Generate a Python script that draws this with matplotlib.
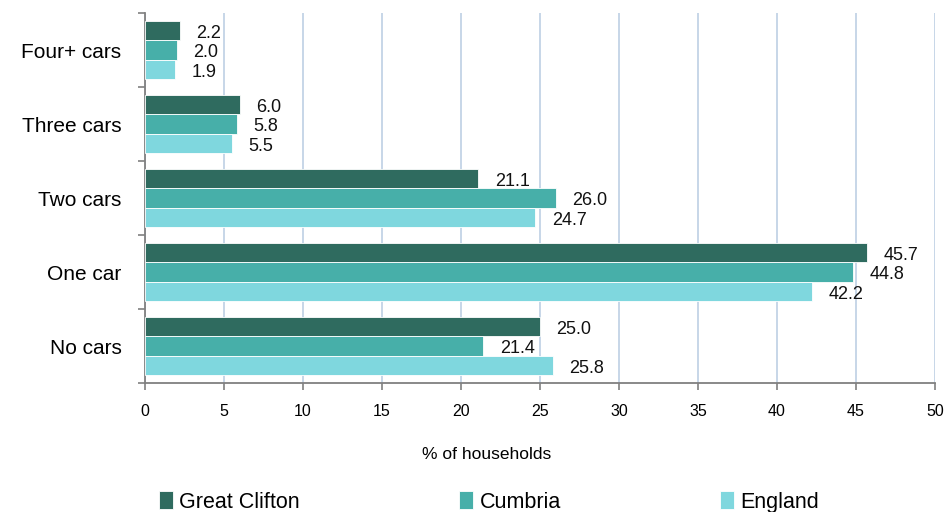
import numpy as np
import matplotlib
matplotlib.use('Agg')
import matplotlib.pyplot as plt

plt.rcParams['font.family'] = ['Liberation Sans', 'DejaVu Sans']

categories = ['No cars', 'One car', 'Two cars', 'Three cars', 'Four+ cars']
great_clifton = [25.0, 45.7, 21.1, 6.0, 2.2]
cumbria = [21.4, 44.8, 26.0, 5.8, 2.0]
england = [25.8, 42.2, 24.7, 5.5, 1.9]
series_names = ['Great Clifton', 'Cumbria', 'England']
colors = ['#2F6B5F', '#47AFA9', '#7FD7DE']

fig = plt.figure(figsize=(9.46, 5.12), dpi=100)
ax = fig.add_axes([145 / 946, 1 - 383 / 512, 790 / 946, 370 / 512])

y = np.arange(len(categories))
h = 0.26
bars = []
for k, (vals, col) in enumerate(zip([great_clifton, cumbria, england], colors)):
    pos = y + h * (1 - k)
    b = ax.barh(pos, vals, height=h, color=col, edgecolor='white', linewidth=0.6, zorder=3)
    bars.append(b)
    for p, v in zip(pos, vals):
        ax.text(v + 1.05, p - 0.04, f'{v:.1f}', va='center', ha='left', fontsize=13, color='#111111')

ax.set_xlim(0, 50)
ax.set_ylim(-0.5, 4.5)
ax.set_xticks(np.arange(0, 51, 5))
ax.tick_params(axis='x', length=5, width=1.2, color='#808080', pad=10, labelsize=11.5)
ax.set_yticks(y)
ax.set_yticklabels(categories, fontsize=15)
ax.tick_params(axis='y', length=0, pad=17)
ax.set_yticks(np.arange(-0.5, 4.6, 1), minor=True)
ax.tick_params(axis='y', which='minor', length=5, width=1.2, color='#808080')
ax.grid(axis='x', color='#C3D3E6', linewidth=1.3, zorder=0)
for s in ['top', 'right']:
    ax.spines[s].set_visible(False)
for s in ['left', 'bottom']:
    ax.spines[s].set_color('#808080')
    ax.spines[s].set_linewidth(1.3)

ax.set_xlabel('% of households', fontsize=12.5)
ax.xaxis.set_label_coords(0.432, -0.173)

legend_x = [159, 459, 720]
for b, name, lx in zip(bars, series_names, legend_x):
    fig.legend(handles=[b], labels=[name], loc='center left',
               bbox_to_anchor=(lx / 946, 1 - 502 / 512), frameon=False,
               fontsize=15.5, handlelength=0.65, handleheight=0.85, handletextpad=0.3,
               borderaxespad=0, borderpad=0)

fig.savefig('out.png', dpi=100)
